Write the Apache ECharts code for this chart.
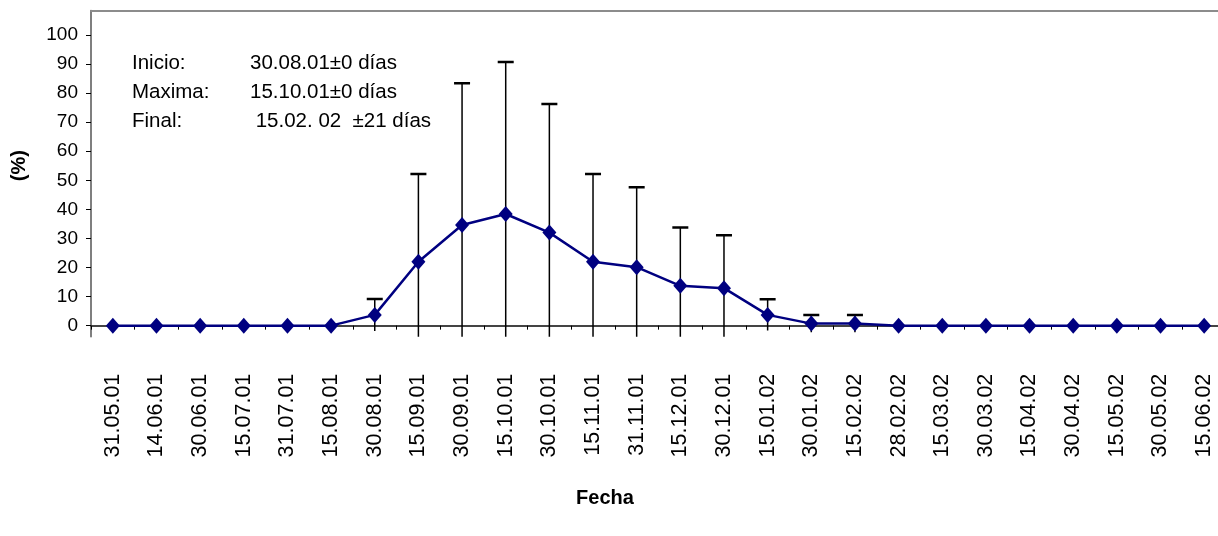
<!DOCTYPE html>
<html>
<head>
<meta charset="utf-8">
<script src="https://cdn.jsdelivr.net/npm/echarts@6/dist/echarts.min.js"></script>
<style>
  html, body { margin: 0; padding: 0; background: #fff; }
  #chart { width: 1218px; height: 536px; }
</style>
</head>
<body>
<div id="chart"></div>
<script>
// fechas de muestreo
var fechas = ['31.05.01', '14.06.01', '30.06.01', '15.07.01', '31.07.01', '15.08.01',
  '30.08.01', '15.09.01', '30.09.01', '15.10.01', '30.10.01', '15.11.01', '31.11.01',
  '15.12.01', '30.12.01', '15.01.02', '30.01.02', '15.02.02', '28.02.02', '15.03.02',
  '30.03.02', '15.04.02', '30.04.02', '15.05.02', '30.05.02', '15.06.02']
// valores medios (%)
var medias = [0, 0, 0, 0, 0, 0, 3.7, 22.0, 34.6, 38.4, 32.0, 22.0, 20.1, 13.7, 12.9,
  3.7, 0.7, 0.7, 0, 0, 0, 0, 0, 0, 0, 0]
// desviacion (barras de error)
var errores = [0, 0, 0, 0, 0, 0, 5.5, 30.2, 48.8, 52.3, 44.2, 30.2, 27.5, 20.1, 18.2,
  5.4, 3.0, 3.0, 0, 0, 0, 0, 0, 0, 0, 0]
var yTicks = [0, 10, 20, 30, 40, 50, 60, 70, 80, 90, 100]
var notas = [
  ['Inicio:', '30.08.01\u00b10 d\u00edas'],
  ['Maxima:', '15.10.01\u00b10 d\u00edas'],
  ['Final:', ' 15.02. 02  \u00b121 d\u00edas']
]

var fuente = "'Liberation Sans', Arial, sans-serif"

var errData = []
fechas.forEach(function (f, i) {
  if (errores[i] > 0) errData.push([i, medias[i], errores[i]])
})

// textos del recuadro (inicio / maxima / final)
var textos = []
notas.forEach(function (n, i) {
  textos.push({
    type: 'text', x: 132, y: 63 + i * 29,
    style: { text: n[0], font: '20.5px ' + fuente, fill: '#000', verticalAlign: 'middle' }
  })
  textos.push({
    type: 'text', x: 250, y: 63 + i * 29,
    style: { text: n[1], font: '20.5px ' + fuente, fill: '#000', verticalAlign: 'middle' }
  })
})

var myChart = echarts.init(document.getElementById('chart'))
myChart.setOption({
  animation: false,
  grid: { left: 91, right: -8, top: 10.5, bottom: 199.3, outerBoundsMode: 'none', containLabel: false },
  graphic: textos,
  xAxis: [{
    type: 'category',
    data: fechas,
    boundaryGap: true,
    name: 'Fecha',
    nameLocation: 'middle',
    nameGap: 152,
    nameTextStyle: { fontFamily: fuente, fontSize: 20, fontWeight: 'bold', color: '#000', padding: [0, 107, 0, 0] },
    axisLine: { onZero: true, lineStyle: { color: '#444', width: 2 } },
    axisTick: { show: true, length: 4, lineStyle: { color: '#000' } },
    axisLabel: { rotate: 90, margin: 37, interval: 0, fontFamily: fuente, fontSize: 21.5, color: '#000' }
  }, {
    type: 'category',
    data: fechas,
    position: 'top',
    axisLine: { onZero: false, lineStyle: { color: '#8c8c8c', width: 2 } },
    axisTick: { show: false },
    axisLabel: { show: false }
  }],
  yAxis: {
    type: 'value',
    min: -3.8,
    max: 108.4,
    name: '(%)',
    nameLocation: 'middle',
    nameRotate: 90,
    nameGap: 62,
    nameTextStyle: { fontFamily: fuente, fontSize: 20, fontWeight: 'bold', color: '#000', padding: [0, 0, 0, 16] },
    splitLine: { show: false },
    axisLine: { show: true, lineStyle: { color: '#555', width: 1.5 } },
    axisTick: { show: true, length: 5, customValues: yTicks, lineStyle: { color: '#000' } },
    axisLabel: { customValues: yTicks, margin: 13, fontFamily: fuente, fontSize: 19, color: '#000' }
  },
  series: [{
    type: 'custom',
    clip: true,
    z: 1,
    data: errData,
    renderItem: function (params, api) {
      var i = api.value(0)
      var m = api.value(1)
      var e = api.value(2)
      var hi = api.coord([i, m + e])
      var lo = api.coord([i, m - e])
      return {
        type: 'group',
        children: [{
          type: 'line',
          shape: { x1: hi[0], y1: hi[1], x2: lo[0], y2: lo[1] },
          style: { stroke: '#000', lineWidth: 1.5 }
        }, {
          type: 'line',
          shape: { x1: hi[0] - 8, y1: hi[1], x2: hi[0] + 8, y2: hi[1] },
          style: { stroke: '#000', lineWidth: 2.5 }
        }]
      }
    }
  }, {
    type: 'line',
    z: 3,
    data: medias,
    symbol: 'diamond',
    symbolSize: [14, 16],
    showAllSymbol: true,
    lineStyle: { color: '#000080', width: 2.5 },
    itemStyle: { color: '#000080' },
    emphasis: { disabled: true }
  }]
})
</script>
</body>
</html>
